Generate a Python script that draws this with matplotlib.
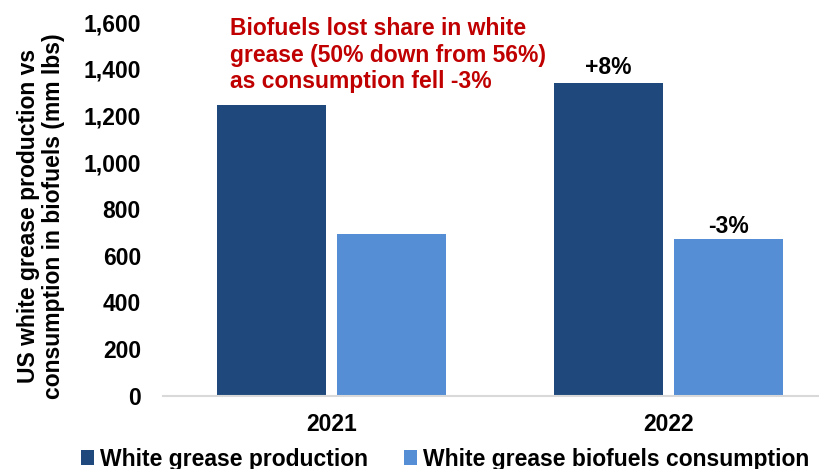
import matplotlib.pyplot as plt
import numpy as np

plt.rcParams['font.family'] = ['Liberation Sans', 'DejaVu Sans']
plt.rcParams['font.weight'] = 'bold'

years = ['2021', '2022']
production = [1245, 1340]
biofuels = [693, 670]
series_names = ['White grease production', 'White grease biofuels consumption']
change_labels = ['+8%', '-3%']
note = 'Biofuels lost share in white\ngrease (50% down from 56%)\nas consumption fell -3%'

dark_blue = '#1F497D'
light_blue = '#558ED5'
fs = 16.5

fig = plt.figure(figsize=(8.2, 4.69), dpi=100)
ax = fig.add_axes([0.199, 0.156, 0.822, 0.797])

x = np.arange(len(years))
width = 0.323
offset = 0.178
bars_prod = ax.bar(x - offset, production, width, color=dark_blue, label=series_names[0])
bars_bio = ax.bar(x + offset, biofuels, width, color=light_blue, label=series_names[1])

# change labels over the 2022 bars
ax.text(x[1] - offset, production[1] + 15, change_labels[0], ha='center', va='bottom',
        fontsize=fs, fontweight='bold')
ax.text(x[1] + offset, biofuels[1] + 5, change_labels[1], ha='center', va='bottom',
        fontsize=fs, fontweight='bold')

ax.set_xlim(-0.5, 1.5)
ax.set_ylim(0, 1600)
ax.set_yticks(np.arange(0, 1601, 200))
ax.set_yticklabels([f'{v:,}' for v in range(0, 1601, 200)])
ax.set_xticks(x)
ax.set_xticklabels(years)
ax.tick_params(axis='both', length=0, labelsize=fs)
ax.tick_params(axis='y', pad=16)
ax.tick_params(axis='x', pad=12)
for lbl in ax.get_xticklabels() + ax.get_yticklabels():
    lbl.set_fontweight('bold')

for side in ['top', 'right', 'left']:
    ax.spines[side].set_visible(False)
ax.spines['bottom'].set_color('#D9D9D9')
ax.spines['bottom'].set_linewidth(1.5)

fig.text(41 / 820, 1 - 216 / 469, 'US white grease production vs\nconsumption in biofuels (mm lbs)',
         rotation=90, ha='center', va='center', multialignment='center',
         fontsize=fs, fontweight='bold', linespacing=1.1)

fig.text(230 / 820, 1 - 17 / 469, note, ha='left', va='top', color='#C00000',
         fontsize=fs, fontweight='bold', linespacing=1.2)

fig.legend(handles=[bars_prod, bars_bio], loc='center', ncol=2,
           bbox_to_anchor=(445 / 820, 1 - 459 / 469), frameon=False,
           prop={'size': fs, 'weight': 'bold'}, handlelength=0.6, handleheight=0.6,
           handletextpad=0.25, columnspacing=1.55)

fig.savefig('out.png', dpi=100)
